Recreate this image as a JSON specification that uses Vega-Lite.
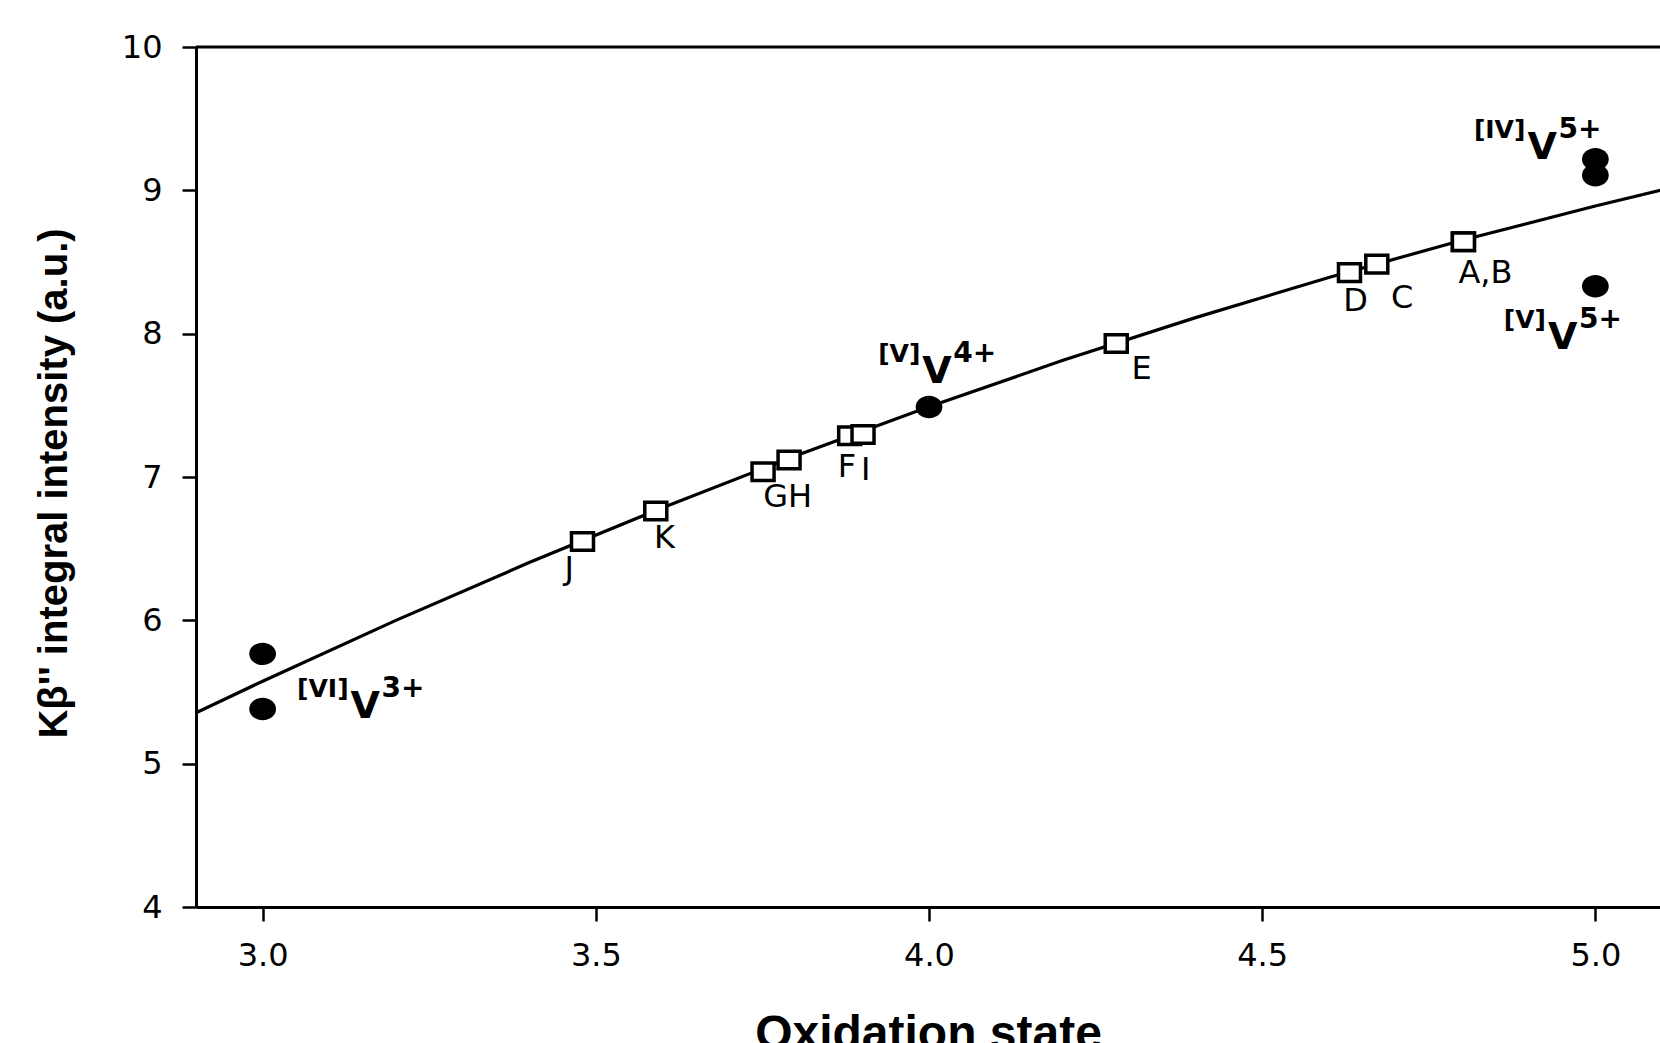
{
  "$schema": "https://vega.github.io/schema/vega-lite/v6.json",
  "autosize": {"type": "none"},
  "width": 1464,
  "height": 860,
  "padding": {"left": 196, "top": 47, "right": 0, "bottom": 136},
  "background": "white",
  "title": {"text": "V(III)-V(V) compounds", "fontSize": 40, "font": "Liberation Sans", "fontWeight": "bold", "anchor": "middle", "baseline": "alphabetic", "offset": 36, "color": "black"},
  "config": {"view": {"stroke": null}},
  "datasets": {
    "fit": [
      {"ox": 2.9, "kb": 5.355}, {"ox": 3.0, "kb": 5.575}, {"ox": 3.2, "kb": 6.0}, {"ox": 3.4, "kb": 6.403},
      {"ox": 3.6, "kb": 6.786}, {"ox": 3.8, "kb": 7.148}, {"ox": 4.0, "kb": 7.49}, {"ox": 4.2, "kb": 7.812},
      {"ox": 4.4, "kb": 8.112}, {"ox": 4.6, "kb": 8.392}, {"ox": 4.8, "kb": 8.652}, {"ox": 5.0, "kb": 8.891},
      {"ox": 5.1, "kb": 9.003}
    ],
    "samples": [
      {"id": "J", "ox": 3.48, "kb": 6.55}, {"id": "K", "ox": 3.59, "kb": 6.763}, {"id": "G", "ox": 3.751, "kb": 7.037},
      {"id": "H", "ox": 3.79, "kb": 7.119}, {"id": "F", "ox": 3.881, "kb": 7.288}, {"id": "I", "ox": 3.901, "kb": 7.296},
      {"id": "E", "ox": 4.281, "kb": 7.931}, {"id": "D", "ox": 4.631, "kb": 8.426}, {"id": "C", "ox": 4.672, "kb": 8.485},
      {"id": "A", "ox": 4.802, "kb": 8.641}, {"id": "B", "ox": 4.802, "kb": 8.641}
    ],
    "sampleLabels": [
      {"lab": "J", "ox": 3.46, "kb": 6.357}, {"lab": "K", "ox": 3.603, "kb": 6.571}, {"lab": "GH", "ox": 3.788, "kb": 6.86},
      {"lab": "F", "ox": 3.877, "kb": 7.07}, {"lab": "I", "ox": 3.905, "kb": 7.05}, {"lab": "E", "ox": 4.319, "kb": 7.754},
      {"lab": "D", "ox": 4.64, "kb": 8.227}, {"lab": "C", "ox": 4.71, "kb": 8.249}, {"lab": "A,B", "ox": 4.835, "kb": 8.426}
    ],
    "refs": [
      {"ox": 3.0, "kb": 5.766}, {"ox": 3.0, "kb": 5.382}, {"ox": 4.0, "kb": 7.488},
      {"ox": 5.0, "kb": 9.217}, {"ox": 5.0, "kb": 9.106}, {"ox": 5.0, "kb": 8.33}
    ],
    "ions": [
      {"ox": 3.132, "kb": 5.322, "site": "[VI]", "ion": "V", "charge": "3+"},
      {"ox": 3.99, "kb": 7.659, "site": "[V]", "ion": "V", "charge": "4+"},
      {"ox": 4.898, "kb": 9.216, "site": "[IV]", "ion": "V", "charge": "5+"},
      {"ox": 4.929, "kb": 7.89, "site": "[V]", "ion": "V", "charge": "5+"}
    ]
  },
  "layer": [
    {
      "data": {"name": "fit"},
      "mark": {"type": "line", "color": "black", "strokeWidth": 3.2, "clip": true},
      "encoding": {
        "x": {"field": "ox", "type": "quantitative", "scale": {"domain": [2.9, 5.097], "nice": false, "zero": false},
          "axis": {"title": "Oxidation state", "values": [3, 3.5, 4, 4.5, 5], "format": ".1f", "grid": false,
            "domainColor": "black", "domainWidth": 3, "tickColor": "black", "tickWidth": 2.5, "tickSize": 14,
            "labelFont": "DejaVu Sans", "labelFontSize": 32, "labelColor": "black", "labelPadding": 19,
            "labelFlush": false, "labelOverlap": false,
            "titleFont": "Liberation Sans", "titleFontWeight": "bold", "titleFontSize": 48, "titleColor": "black",
            "titleY": 141, "titleBaseline": "alphabetic"}},
        "y": {"field": "kb", "type": "quantitative", "scale": {"domain": [4, 10], "nice": false, "zero": false},
          "axis": {"title": "Kβ'' integral intensity (a.u.)", "values": [4, 5, 6, 7, 8, 9, 10], "format": "d", "grid": false,
            "domainColor": "black", "domainWidth": 3, "tickColor": "black", "tickWidth": 2.5, "tickSize": 14,
            "labelFont": "DejaVu Sans", "labelFontSize": 32, "labelColor": "black", "labelPadding": 20,
            "labelFlush": false, "labelOverlap": false,
            "titleFont": "Liberation Sans", "titleFontWeight": "bold", "titleFontSize": 40, "titleColor": "black",
            "titleAngle": -90, "titleX": -130, "titleY": 436, "titleAlign": "center", "titleBaseline": "alphabetic"}}
      }
    },
    {
      "data": {"values": [{}]},
      "mark": {"type": "rule", "color": "black", "strokeWidth": 3},
      "encoding": {"y": {"datum": 10}}
    },
    {
      "data": {"name": "samples"},
      "mark": {"type": "point", "shape": "M-1.1,-0.88H1.1V0.88H-1.1Z", "size": 400, "filled": true, "fill": "white", "stroke": "black", "strokeWidth": 3.5, "opacity": 1},
      "encoding": {"x": {"field": "ox", "type": "quantitative"}, "y": {"field": "kb", "type": "quantitative"}}
    },
    {
      "data": {"name": "refs"},
      "mark": {"type": "point", "shape": "M-1.19,0A1.19,1 0 1,0 1.19,0A1.19,1 0 1,0 -1.19,0Z", "size": 506, "filled": true, "fill": "black", "stroke": null, "opacity": 1},
      "encoding": {"x": {"field": "ox", "type": "quantitative"}, "y": {"field": "kb", "type": "quantitative"}}
    },
    {
      "data": {"name": "sampleLabels"},
      "mark": {"type": "text", "font": "DejaVu Sans", "fontSize": 32, "color": "black", "align": "center", "baseline": "middle"},
      "encoding": {"x": {"field": "ox", "type": "quantitative"}, "y": {"field": "kb", "type": "quantitative"}, "text": {"field": "lab"}}
    },
    {
      "data": {"name": "ions"},
      "mark": {"type": "text", "font": "DejaVu Sans", "fontWeight": "bold", "fontSize": 25, "color": "black", "align": "right", "baseline": "alphabetic", "dx": -2, "dy": -21},
      "encoding": {"x": {"field": "ox", "type": "quantitative"}, "y": {"field": "kb", "type": "quantitative"}, "text": {"field": "site"}}
    },
    {
      "data": {"name": "ions"},
      "mark": {"type": "text", "font": "DejaVu Sans", "fontWeight": "bold", "fontSize": 38, "color": "black", "align": "left", "baseline": "alphabetic"},
      "encoding": {"x": {"field": "ox", "type": "quantitative"}, "y": {"field": "kb", "type": "quantitative"}, "text": {"field": "ion"}}
    },
    {
      "data": {"name": "ions"},
      "mark": {"type": "text", "font": "DejaVu Sans", "fontWeight": "bold", "fontSize": 28, "color": "black", "align": "left", "baseline": "alphabetic", "dx": 31, "dy": -21},
      "encoding": {"x": {"field": "ox", "type": "quantitative"}, "y": {"field": "kb", "type": "quantitative"}, "text": {"field": "charge"}}
    }
  ]
}
